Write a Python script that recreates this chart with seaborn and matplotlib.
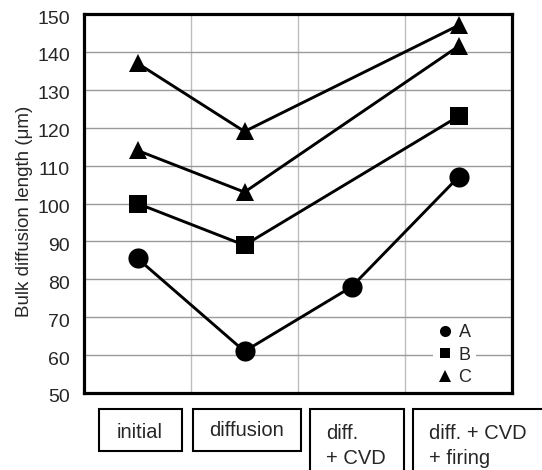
import matplotlib
matplotlib.use("Agg")
import matplotlib.pyplot as plt
from matplotlib.lines import Line2D
from matplotlib.patches import Rectangle
import matplotlib.transforms as mtransforms
import seaborn as sns
import pandas as pd

# Process steps (x categories)
categories = ["initial", "diffusion", "diff.\n+ CVD", "diff. + CVD\n+ firing"]

# Bulk diffusion length (µm) per sample; None = not measured at that step
series_A = [85.5, 61, 78, 107]
series_B = [100, 89, None, 123]
series_C1 = [137, 119, None, 147]
series_C2 = [114, 103, None, 141.5]

y_ticks = [50, 60, 70, 80, 90, 100, 110, 120, 130, 140, 150]

sns.set_theme(style="white")
plt.rcParams["font.family"] = ["Liberation Sans", "DejaVu Sans"]

W, H = 542, 470
fig = plt.figure(figsize=(W / 100, H / 100), dpi=100)
ax = fig.add_axes([84 / W, 1 - 393 / H, (512 - 84) / W, (393 - 14) / H])

lines = [
    ("A", series_A, "o", 14.5),
    ("B", series_B, "s", 12.5),
    ("C", series_C1, "^", 13),
    ("C", series_C2, "^", 13),
]
for name, vals, mk, ms in lines:
    df = pd.DataFrame({"step": range(len(categories)), "value": vals}).dropna()
    sns.lineplot(data=df, x="step", y="value", ax=ax, color="black",
                 linewidth=2.1, marker=mk, markersize=ms, markeredgewidth=0,
                 legend=False, zorder=3)

ax.set_xlim(-0.5, len(categories) - 0.5)
ax.set_ylim(y_ticks[0], y_ticks[-1])
ax.set_yticks(y_ticks)
ax.set_xticks([i + 0.5 for i in range(len(categories) - 1)])
ax.set_xticklabels([])
ax.set_xlabel("")
ax.set_ylabel("Bulk diffusion length (\u03bcm)", fontsize=13.5)
ax.yaxis.set_label_coords(-0.12, 0.48)

ax.grid(axis="y", color="#9a9a9a", linewidth=1.0)
ax.grid(axis="x", color="#bdbdbd", linewidth=1.0)
ax.set_axisbelow(True)
for sp in ax.spines.values():
    sp.set_color("black")
    sp.set_linewidth(2.3)
ax.tick_params(axis="both", length=0)
ax.tick_params(axis="y", pad=10, labelsize=14)
off = mtransforms.ScaledTranslation(0, -3 / 100, fig.dpi_scale_trans)
for lab in ax.get_yticklabels():
    lab.set_transform(lab.get_transform() + off)

# Legend with markers only
handles = [
    Line2D([], [], marker="o", ls="none", color="black", ms=8, mew=0),
    Line2D([], [], marker="s", ls="none", color="black", ms=7, mew=0),
    Line2D([], [], marker="^", ls="none", color="black", ms=8.5, mew=0),
]
leg = ax.legend(handles, ["A", "B", "C"], loc="lower right",
                bbox_to_anchor=((476 - 84) / 428, (393 - 391) / 379),
                frameon=True, facecolor="white", edgecolor="none",
                framealpha=1, fancybox=False, fontsize=13,
                handlelength=0.8, handletextpad=0.35, labelspacing=0.32,
                borderpad=0.25, borderaxespad=0)
leg.set_zorder(5)

# Boxed step labels below the axis (pixel geometry)
boxes = [(99, 182, 409, 451), (193, 301, 409, 451),
         (310, 404, 409, 480), (413, 560, 409, 480)]
text_pos = [(140, 432), (247, 430), (326, 424), (429, 424)]
for (x0, x1, y0, y1), (tx, ty), label in zip(boxes, text_pos, categories):
    fig.add_artist(Rectangle((x0 / W, 1 - y1 / H), (x1 - x0) / W, (y1 - y0) / H,
                             transform=fig.transFigure, fill=False,
                             edgecolor="black", linewidth=1.5, clip_on=False))
    if "\n" in label:
        fig.text(tx / W, 1 - ty / H, label, ha="left", va="top",
                 fontsize=14.5, linespacing=1.38)
    else:
        fig.text(tx / W, 1 - ty / H, label, ha="center", va="center",
                 fontsize=14.5)

fig.savefig("out.png", dpi=100)
